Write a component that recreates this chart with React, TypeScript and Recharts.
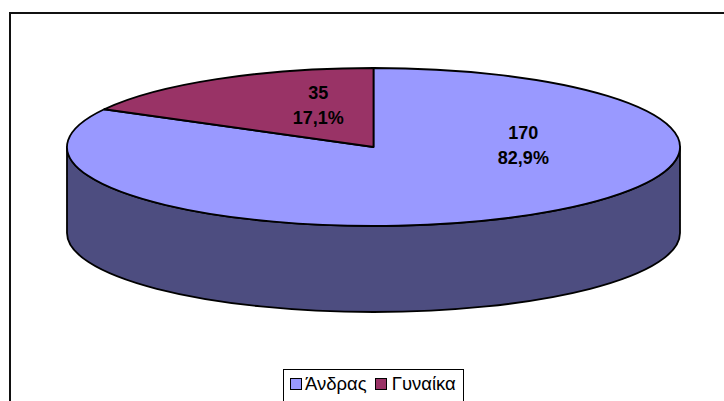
import React from "react";
import { PieChart, Pie, Cell, Legend } from "recharts";

// Survey counts by gender
const categories = ["Άνδρας", "Γυναίκα"];
const counts = [170, 35];

const sliceColors = ["#9999FF", "#993366"];
const wallColor = "#4D4D80";
const FONT = "'Liberation Sans', Arial, sans-serif";

const WIDTH = 724;
const HEIGHT = 401;
const CENTER_X = 373.5;
const CENTER_Y = 147;
const RADIUS_X = 306.5;
const RADIUS_Y = 79;
const DEPTH = 86;

// Label centres relative to the disc centre, as fractions of the two radii
const labelOffsets = [
  { x: 0.489, y: -0.03 },
  { x: -0.18, y: -0.53 },
];

const table = categories.map((name, i) => ({ name, value: counts[i] }));

const toRad = (deg: number) => (deg * Math.PI) / 180;
const pointAt = (cx: number, cy: number, deg: number) => ({
  x: cx + RADIUS_X * Math.cos(toRad(deg)),
  y: cy - RADIUS_Y * Math.sin(toRad(deg)),
});

// Flattened sector with the visible part of the outer wall beneath it
function DiscSlice(props: any) {
  const { cx, cy, startAngle, endAngle, fill } = props;
  const from = pointAt(cx, cy, startAngle);
  const to = pointAt(cx, cy, endAngle);
  const large = Math.abs(startAngle - endAngle) > 180 ? 1 : 0;
  const top = `M${cx},${cy} L${from.x},${from.y} A${RADIUS_X},${RADIUS_Y} 0 ${large} 1 ${to.x},${to.y} Z`;

  const wallStart = Math.min(startAngle, 0);
  const wallEnd = Math.max(endAngle, -180);
  let wall = "";
  if (wallStart > wallEnd) {
    const a = pointAt(cx, cy, wallStart);
    const b = pointAt(cx, cy, wallEnd);
    wall =
      `M${a.x},${a.y} A${RADIUS_X},${RADIUS_Y} 0 0 1 ${b.x},${b.y} ` +
      `L${b.x},${b.y + DEPTH} A${RADIUS_X},${RADIUS_Y} 0 0 0 ${a.x},${a.y + DEPTH} Z`;
  }
  return (
    <g>
      {wall && <path d={wall} fill={wallColor} stroke="#000" strokeWidth={1.8} strokeLinejoin="round" />}
      <path d={top} fill={fill} stroke="#000" strokeWidth={1.8} strokeLinejoin="round" />
    </g>
  );
}

function SliceLabel(props: any) {
  const { cx, cy, index, value, percent } = props;
  const offset = labelOffsets[index];
  const x = cx + offset.x * RADIUS_X;
  const y = cy + offset.y * RADIUS_Y;
  const share = (percent * 100).toFixed(1).replace(".", ",") + "%";
  return (
    <text x={x} textAnchor="middle" fontFamily={FONT} fontWeight="bold" fontSize={18} fill="#000">
      <tspan x={x} y={y - 6}>{value}</tspan>
      <tspan x={x} y={y + 19}>{share}</tspan>
    </text>
  );
}

function LegendBox({ payload }: any) {
  return (
    <div
      style={{
        boxSizing: "border-box",
        width: 181,
        height: 40,
        border: "1.5px solid #000",
        background: "#fff",
        display: "flex",
        alignItems: "flex-start",
        paddingTop: 2,
        paddingLeft: 6,
        fontFamily: FONT,
        fontSize: 18.5,
        lineHeight: "24px",
        color: "#000",
      }}
    >
      {(payload || []).map((entry: any, i: number) => (
        <span key={entry.value} style={{ display: "flex", alignItems: "center", marginRight: i === 0 ? 8 : 0 }}>
          <span
            style={{
              boxSizing: "border-box",
              width: 12,
              height: 12,
              marginRight: i === 0 ? 3 : 5,
              background: entry.color,
              border: "1.5px solid #000",
            }}
          />
          {entry.value}
        </span>
      ))}
    </div>
  );
}

export default function App() {
  return (
    <div style={{ position: "fixed", left: 0, top: 0, width: WIDTH, height: HEIGHT, overflow: "hidden", background: "#fff" }}>
      <div
        style={{
          position: "absolute",
          left: 9,
          top: 12,
          width: WIDTH + 20,
          height: HEIGHT + 20,
          border: "2px solid #111",
        }}
      />
      <div style={{ position: "absolute", left: 0, top: 0 }}>
        <PieChart width={WIDTH} height={HEIGHT} margin={{ top: 0, right: 0, bottom: 0, left: 0 }}>
          <Pie
            data={table}
            dataKey="value"
            nameKey="name"
            cx={CENTER_X}
            cy={CENTER_Y}
            outerRadius={RADIUS_X}
            startAngle={90}
            endAngle={-270}
            isAnimationActive={false}
            shape={DiscSlice}
            label={SliceLabel}
            labelLine={false}
          >
            {table.map((row, i) => (
              <Cell key={row.name} fill={sliceColors[i]} />
            ))}
          </Pie>
          <Legend
            content={LegendBox}
            wrapperStyle={{ position: "absolute", left: 283, top: 369, width: 181, height: 40, bottom: "auto", right: "auto" }}
          />
        </PieChart>
      </div>
    </div>
  );
}
